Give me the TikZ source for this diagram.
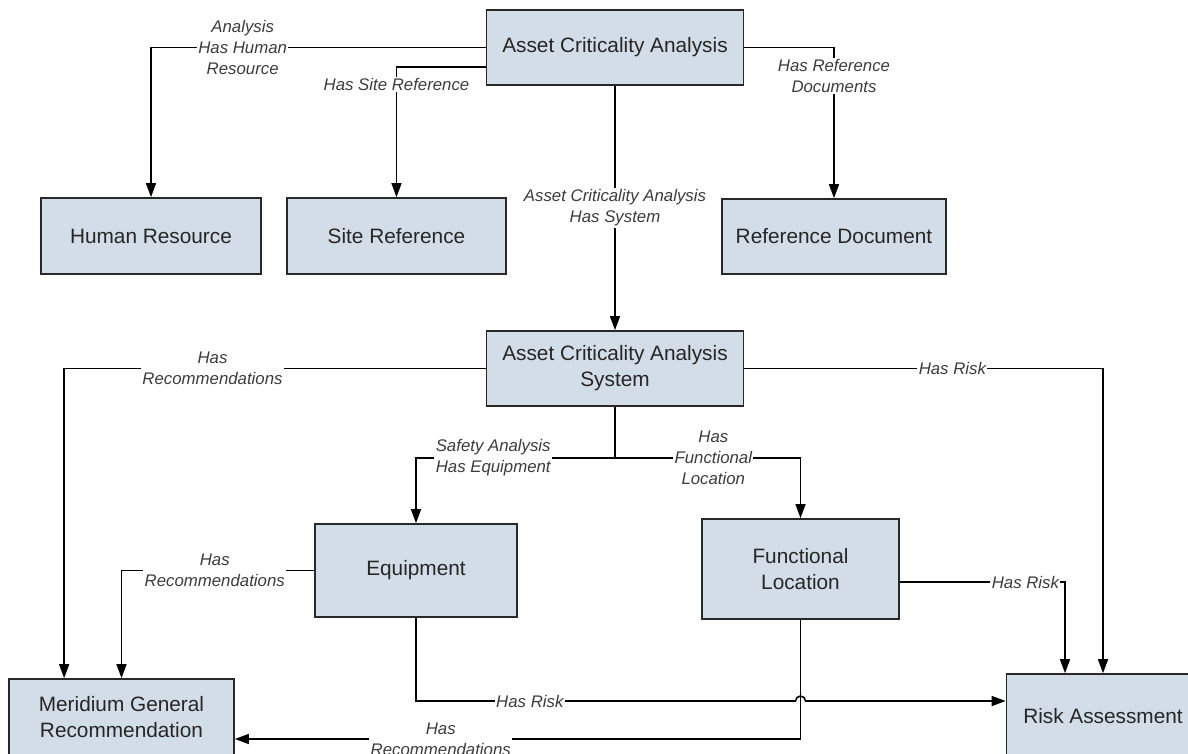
\documentclass[tikz,border=0pt]{standalone}
\usepackage{fontspec}
\setmainfont{Liberation Sans}
\usetikzlibrary{arrows.meta,calc}

\definecolor{boxfill}{RGB}{211,221,231}
\definecolor{boxline}{RGB}{40,40,40}
\definecolor{labeltext}{RGB}{60,60,60}

\begin{document}
\begin{tikzpicture}[x=0.75pt,y=-0.75pt,
        entity/.style={draw=boxline,fill=boxfill,line width=1.3pt,align=center,inner sep=0pt,
            text=black!85,font=\fontsize{15.6}{19.5}\selectfont},
        rel/.style={line width=1.15pt,-{Triangle[length=10.5pt,width=7.5pt]}},
        relname/.style={fill=white,inner sep=1pt,align=center,text=labeltext,
            font=\fontsize{12.6}{15.75}\selectfont\itshape}]
        \path[use as bounding box,clip] (0,0) rectangle (1188,753);

        % entity boxes
        \node[entity,minimum width=192.75pt,minimum height=56.25pt] (aca) at (615,47.5) {Asset Criticality Analysis};
        \node[entity,minimum width=165pt,minimum height=57pt] (hr) at (151,236) {Human Resource};
        \node[entity,minimum width=164.25pt,minimum height=57pt] (sr) at (396.5,236) {Site Reference};
        \node[entity,minimum width=168pt,minimum height=56.25pt] (rd) at (834,236.5) {Reference Document};
        \node[entity,minimum width=192.75pt,minimum height=56.25pt] (acas) at (615,368.5) {Asset Criticality Analysis\\System};
        \node[entity,minimum width=151.5pt,minimum height=69.75pt] (eq) at (416,570.5) {Equipment};
        \node[entity,minimum width=147.75pt,minimum height=75pt] (fl) at (800.5,569) {Functional\\Location};
        \node[entity,minimum width=168.75pt,minimum height=57pt] (mgr) at (121.5,717) {Meridium General\\Recommendation};
        \node[entity,minimum width=144.75pt,minimum height=63pt] (ra) at (1103,716) {Risk Assessment};

        \coordinate (split) at (615,458);
        \coordinate (riskrow) at (0,701);
        \coordinate (recrow) at (0,739);

        % links from the analysis
        \draw[rel] (aca.west) -| node[relname,pos=0.363] {Analysis\\Has Human\\Resource} (hr.north);
        \draw[rel] ($(aca.west)+(0,19.5)$) -| node[relname,pos=0.569] {Has Site Reference} (sr.north);
        \draw[rel] (aca.east) -| node[relname,pos=0.593] {Has Reference\\Documents} (rd.north);
        \draw[rel] (aca) -- node[relname] {Asset Criticality Analysis\\Has System} (acas);

        % links from the system
        \draw[rel] (acas.west) -| node[relname,pos=0.324] {Has\\Recommendations} ($(mgr.north west)+(56,0)$);
        \draw[rel] (acas.east) -| node[relname,pos=0.29] {Has Risk} (ra.north);
        \draw[line width=1.15pt] (acas.south) -- (split);
        \draw[rel] (split) -| node[relname,pos=0.306] {Safety Analysis\\Has Equipment} (eq.north);
        \draw[rel] (split) -| node[relname,pos=0.265] {Has\\Functional\\Location} (fl.north);

        % links from equipment and location
        \draw[rel] (eq.west) -| node[relname,pos=0.258] {Has\\Recommendations} (mgr.north);
        \draw[rel] ($(fl.east)+(0,13)$) -| node[relname,pos=0.38] {Has Risk} ($(ra.north)+(-38,0)$);
        \draw[rel] (eq.south) |- node[relname,pos=0.65] {Has Risk} ($(fl.south |- riskrow)+(-5,0)$)
            arc[start angle=180,end angle=360,radius=5] -- (ra.west |- riskrow);
        \draw[rel] (fl.south) |- node[relname,pos=0.818] {Has\\Recommendations} (mgr.east |- recrow);
    \end{tikzpicture}
\end{document}
